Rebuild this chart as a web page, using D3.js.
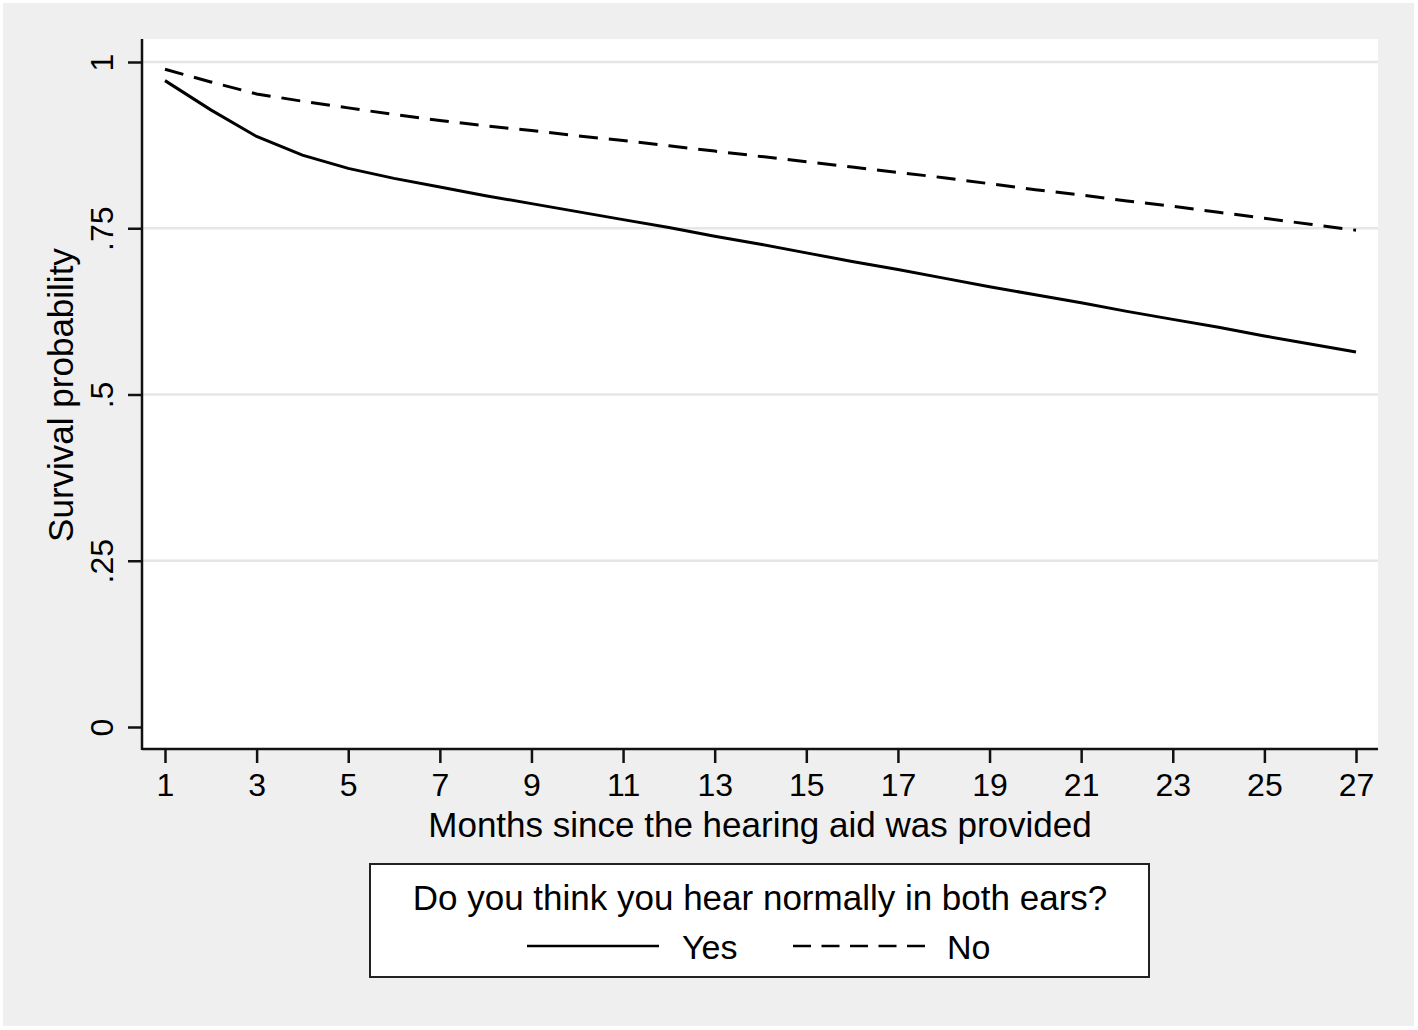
<!DOCTYPE html>
<html lang="en">
<head>
<meta charset="utf-8">
<title>Survival probability</title>
<script src="https://cdn.jsdelivr.net/npm/d3@7"></script>
<style>
  body { margin: 0; background: #fff; }
  text { font-family: "Liberation Sans", Arial, Helvetica, sans-serif; fill: #000; }
</style>
</head>
<body>
<svg width="1418" height="1030"></svg>
<script>
// months since the hearing aid was provided
var months = [1,2,3,4,5,6,7,8,9,10,11,12,13,14,15,16,17,18,19,20,21,22,23,24,25,26,27];
// "Yes" - hears normally in both ears (solid)
var yesSurv = [.972,.928,.888,.860,.840,.825,.812,.799,.787,.775,.763,.751,.738,.726,.713,
               .700,.688,.675,.662,.650,.638,.625,.613,.601,.588,.576,.564];
// "No" (dashed)
var noSurv = [.989,.970,.952,.941,.931,.921,.912,.904,.897,.889,.882,.874,.866,.858,.850,
              .842,.834,.826,.817,.808,.800,.791,.783,.774,.765,.756,.747];
var xTicks = [1,3,5,7,9,11,13,15,17,19,21,23,25,27];
var yTicks = [0, .25, .5, .75, 1];
var yTickLabels = ["0", ".25", ".5", ".75", "1"];

var svg = d3.select("svg");

// outer gray area + white plot region
svg.append("rect").attr("x", 3).attr("y", 3).attr("width", 1411).attr("height", 1023)
    .attr("fill", "#efefef");
svg.append("rect").attr("x", 142).attr("y", 39).attr("width", 1236).attr("height", 710)
    .attr("fill", "#fff");

var x = d3.scaleLinear().domain([1, 27]).range([165, 1356]);
var y = d3.scaleLinear().domain([0, 1]).range([727, 62]);

// gridlines
svg.append("g").selectAll("line")
  .data(yTicks.filter(function(d) { return d > 0; }))
  .enter().append("line")
    .attr("x1", 143).attr("x2", 1378)
    .attr("y1", function(d) { return y(d); })
    .attr("y2", function(d) { return y(d); })
    .attr("stroke", "#e6e6e6").attr("stroke-width", 2.5);

// x axis
var xAxis = svg.append("g")
    .attr("transform", "translate(0,749)")
    .call(d3.axisBottom(x).tickValues(xTicks).tickSize(14).tickPadding(10).tickFormat(d3.format("d")));
xAxis.select(".domain").attr("d", "M142,0H1378").attr("stroke", "#111").attr("stroke-width", 2.5);
xAxis.selectAll(".tick line").attr("stroke", "#111").attr("stroke-width", 2.5);
xAxis.selectAll(".tick text").attr("font-size", 32).attr("fill", "#000")
    .attr("font-family", "Liberation Sans, Arial, sans-serif");

// y axis
var yAxis = svg.append("g")
    .attr("transform", "translate(142,0)")
    .call(d3.axisLeft(y).tickValues(yTicks).tickSize(14)
      .tickFormat(function(d, i) { return yTickLabels[i]; }));
yAxis.select(".domain").attr("d", "M0,39V750").attr("stroke", "#111").attr("stroke-width", 2.5);
yAxis.selectAll(".tick line").attr("stroke", "#111").attr("stroke-width", 2.5);
yAxis.selectAll(".tick text")
    .attr("font-size", 32).attr("fill", "#000")
    .attr("font-family", "Liberation Sans, Arial, sans-serif")
    .attr("text-anchor", "middle")
    .attr("x", null).attr("dy", null)
    .attr("transform", "translate(-29,0) rotate(-90)");

// axis titles
svg.append("text")
    .attr("transform", "translate(73,395) rotate(-90)")
    .attr("text-anchor", "middle").attr("font-size", 35)
    .text("Survival probability");
svg.append("text")
    .attr("x", 760).attr("y", 837)
    .attr("text-anchor", "middle").attr("font-size", 35)
    .text("Months since the hearing aid was provided");

// survival curves
var line = d3.line()
    .x(function(d) { return x(d[0]); })
    .y(function(d) { return y(d[1]); });

svg.append("path")
    .datum(d3.zip(months, noSurv))
    .attr("d", line)
    .attr("fill", "none").attr("stroke", "#000").attr("stroke-width", 3)
    .attr("stroke-dasharray", "19,11");

svg.append("path")
    .datum(d3.zip(months, yesSurv))
    .attr("d", line)
    .attr("fill", "none").attr("stroke", "#000").attr("stroke-width", 3);

// legend
var legend = svg.append("g");
legend.append("rect")
    .attr("x", 370).attr("y", 864).attr("width", 779).attr("height", 113)
    .attr("fill", "#fff").attr("stroke", "#222").attr("stroke-width", 2);
legend.append("text")
    .attr("x", 760).attr("y", 910).attr("text-anchor", "middle").attr("font-size", 35)
    .text("Do you think you hear normally in both ears?");
legend.append("line")
    .attr("x1", 527).attr("x2", 659).attr("y1", 946).attr("y2", 946)
    .attr("stroke", "#000").attr("stroke-width", 2.5);
legend.append("text")
    .attr("x", 682).attr("y", 959).attr("font-size", 34).text("Yes");
legend.append("line")
    .attr("x1", 793).attr("x2", 925).attr("y1", 946).attr("y2", 946)
    .attr("stroke", "#000").attr("stroke-width", 2.5)
    .attr("stroke-dasharray", "18,10.5");
legend.append("text")
    .attr("x", 947).attr("y", 959).attr("font-size", 34).text("No");
</script>
</body>
</html>
